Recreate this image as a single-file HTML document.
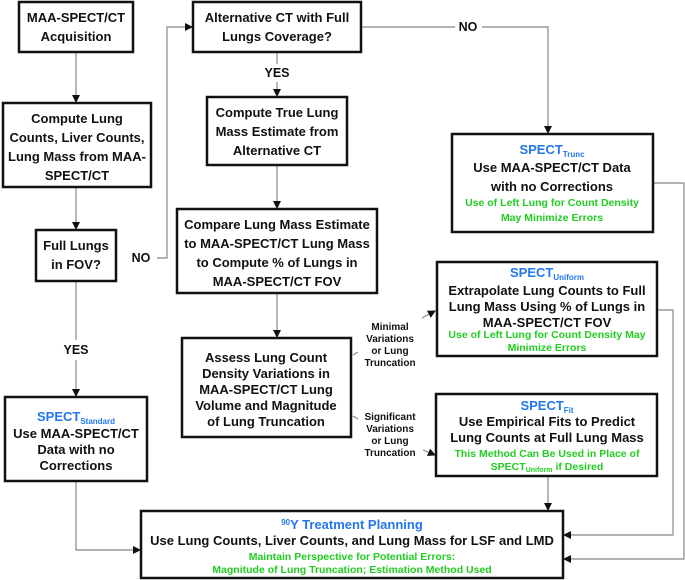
<!DOCTYPE html>
<html><head><meta charset="utf-8"><style>
html,body{margin:0;padding:0;background:#fff}
svg{display:block}
text{font-family:"Liberation Sans",Arial,sans-serif;font-weight:bold;text-anchor:middle}
.t{font-size:13px;fill:#111}
.g{font-size:10.5px;fill:#22cc22}
.b{fill:#2277ee}
.s{font-size:10px;fill:#111}
.l{font-size:12.5px;fill:#111}
rect{fill:#fff;stroke:#111;stroke-width:2.5}
.c{stroke:#888;stroke-width:1.2;fill:none}
</style></head><body>
<svg width="685" height="580" viewBox="0 0 685 580">
<defs><marker id="a" markerWidth="8" markerHeight="8" refX="7" refY="4" orient="auto" markerUnits="userSpaceOnUse"><path d="M0,0 L8,4 L0,8z" fill="#111"/></marker></defs>
<path class="c" d="M76,52 V102" marker-end="url(#a)"/>
<path class="c" d="M361,27 H455 M482,27 H548 V133" marker-end="url(#a)"/>
<path class="c" d="M277,52 V64 M277,82 V96" marker-end="url(#a)"/>
<path class="c" d="M277,165 V208" marker-end="url(#a)"/>
<path class="c" d="M76,187 V229" marker-end="url(#a)"/>
<path class="c" d="M157,258 H167 V27 H192" marker-end="url(#a)"/>
<path class="c" d="M277,293 V337" marker-end="url(#a)"/>
<path class="c" d="M76,281 V340 M76,360 V396" marker-end="url(#a)"/>
<path class="c" d="M76,481 V550 H140" marker-end="url(#a)"/>
<path class="c" d="M548,476 V510" marker-end="url(#a)"/>
<path class="c" d="M657,310 H673 V535 H564" marker-end="url(#a)"/>
<path class="c" d="M653,183 H684 V559 H564" marker-end="url(#a)"/>
<path class="c" d="M353,355 L358,352 M422,318 L435,311" marker-end="url(#a)"/>
<path class="c" d="M353,416 L358,419 M423,450 L435,455" marker-end="url(#a)"/>

<rect x="19" y="2" width="114" height="50"/>
<text class="t" x="76" y="22">MAA-SPECT/CT</text><text class="t" x="76" y="41">Acquisition</text>
<rect x="193" y="2" width="168" height="50"/>
<text class="t" x="277" y="22">Alternative CT with Full</text><text class="t" x="277" y="41">Lungs Coverage?</text>
<text class="l" x="468" y="31">NO</text>
<text class="l" x="277" y="77">YES</text>
<rect x="3" y="103" width="148" height="84"/>
<text class="t" x="77" y="123">Compute Lung</text><text class="t" x="77" y="142">Counts, Liver Counts,</text><text class="t" x="77" y="161">Lung Mass from MAA-</text><text class="t" x="77" y="180">SPECT/CT</text>
<rect x="207" y="97" width="140" height="68"/>
<text class="t" x="277" y="117">Compute True Lung</text><text class="t" x="277" y="136">Mass Estimate from</text><text class="t" x="277" y="155">Alternative CT</text>
<rect x="452" y="134" width="201" height="98"/>
<text class="t b" x="552" y="154">SPECT<tspan style="font-size:8px" dy="3">Trunc</tspan></text>
<text class="t" x="552" y="172">Use MAA-SPECT/CT Data</text><text class="t" x="552" y="191">with no Corrections</text>
<text class="g" x="552" y="206">Use of Left Lung for Count Density</text><text class="g" x="552" y="221">May Minimize Errors</text>
<rect x="36" y="230" width="80" height="51"/>
<text class="t" x="76" y="250">Full Lungs</text><text class="t" x="76" y="269">in FOV?</text>
<text class="l" x="141" y="262">NO</text>
<rect x="177" y="209" width="200" height="84"/>
<text class="t" x="277" y="229">Compare Lung Mass Estimate</text><text class="t" x="277" y="248">to MAA-SPECT/CT Lung Mass</text><text class="t" x="277" y="267">to Compute % of Lungs in</text><text class="t" x="277" y="286">MAA-SPECT/CT FOV</text>
<rect x="437" y="262" width="220" height="94"/>
<text class="t b" x="547" y="277">SPECT<tspan style="font-size:8px" dy="3">Uniform</tspan></text>
<text class="t" x="547" y="295">Extrapolate Lung Counts to Full</text><text class="t" x="547" y="311">Lung Mass Using % of Lungs in</text><text class="t" x="547" y="327">MAA-SPECT/CT FOV</text>
<text class="g" x="547" y="338">Use of Left Lung for Count Density May</text><text class="g" x="547" y="351">Minimize Errors</text>
<text class="l" x="76" y="354">YES</text>
<rect x="182" y="338" width="169" height="99"/>
<text class="t" x="266" y="362">Assess Lung Count</text><text class="t" x="266" y="378">Density Variations in</text><text class="t" x="266" y="394">MAA-SPECT/CT Lung</text><text class="t" x="266" y="410">Volume and Magnitude</text><text class="t" x="266" y="426">of Lung Truncation</text>
<text class="s" x="390" y="330">Minimal</text><text class="s" x="390" y="342">Variations</text><text class="s" x="390" y="354">or Lung</text><text class="s" x="390" y="366">Truncation</text>
<text class="s" x="390" y="420">Significant</text><text class="s" x="390" y="432">Variations</text><text class="s" x="390" y="444">or Lung</text><text class="s" x="390" y="456">Truncation</text>
<rect x="5" y="397" width="142" height="84"/>
<text class="t b" x="76" y="421">SPECT<tspan style="font-size:8px" dy="3">Standard</tspan></text>
<text class="t" x="76" y="438">Use MAA-SPECT/CT</text><text class="t" x="76" y="454">Data with no</text><text class="t" x="76" y="470">Corrections</text>
<rect x="436" y="394" width="221" height="82"/>
<text class="t b" x="547" y="410">SPECT<tspan style="font-size:8px" dy="3">Fit</tspan></text>
<text class="t" x="547" y="426">Use Empirical Fits to Predict</text><text class="t" x="547" y="442">Lung Counts at Full Lung Mass</text>
<text class="g" x="547" y="457">This Method Can Be Used in Place of</text>
<text class="g" x="547" y="470">SPECT<tspan style="font-size:7px" dy="2">Uniform</tspan><tspan dy="-2"> if Desired</tspan></text>
<rect x="141" y="511" width="422" height="67"/>
<text class="t b" x="352" y="529"><tspan style="font-size:8px" dy="-4">90</tspan><tspan dy="4">Y Treatment Planning</tspan></text>
<text class="t" x="352" y="545">Use Lung Counts, Liver Counts, and Lung Mass for LSF and LMD</text>
<text class="g" x="352" y="560">Maintain Perspective for Potential Errors:</text>
<text class="g" x="352" y="573">Magnitude of Lung Truncation; Estimation Method Used</text>
</svg>
</body></html>
